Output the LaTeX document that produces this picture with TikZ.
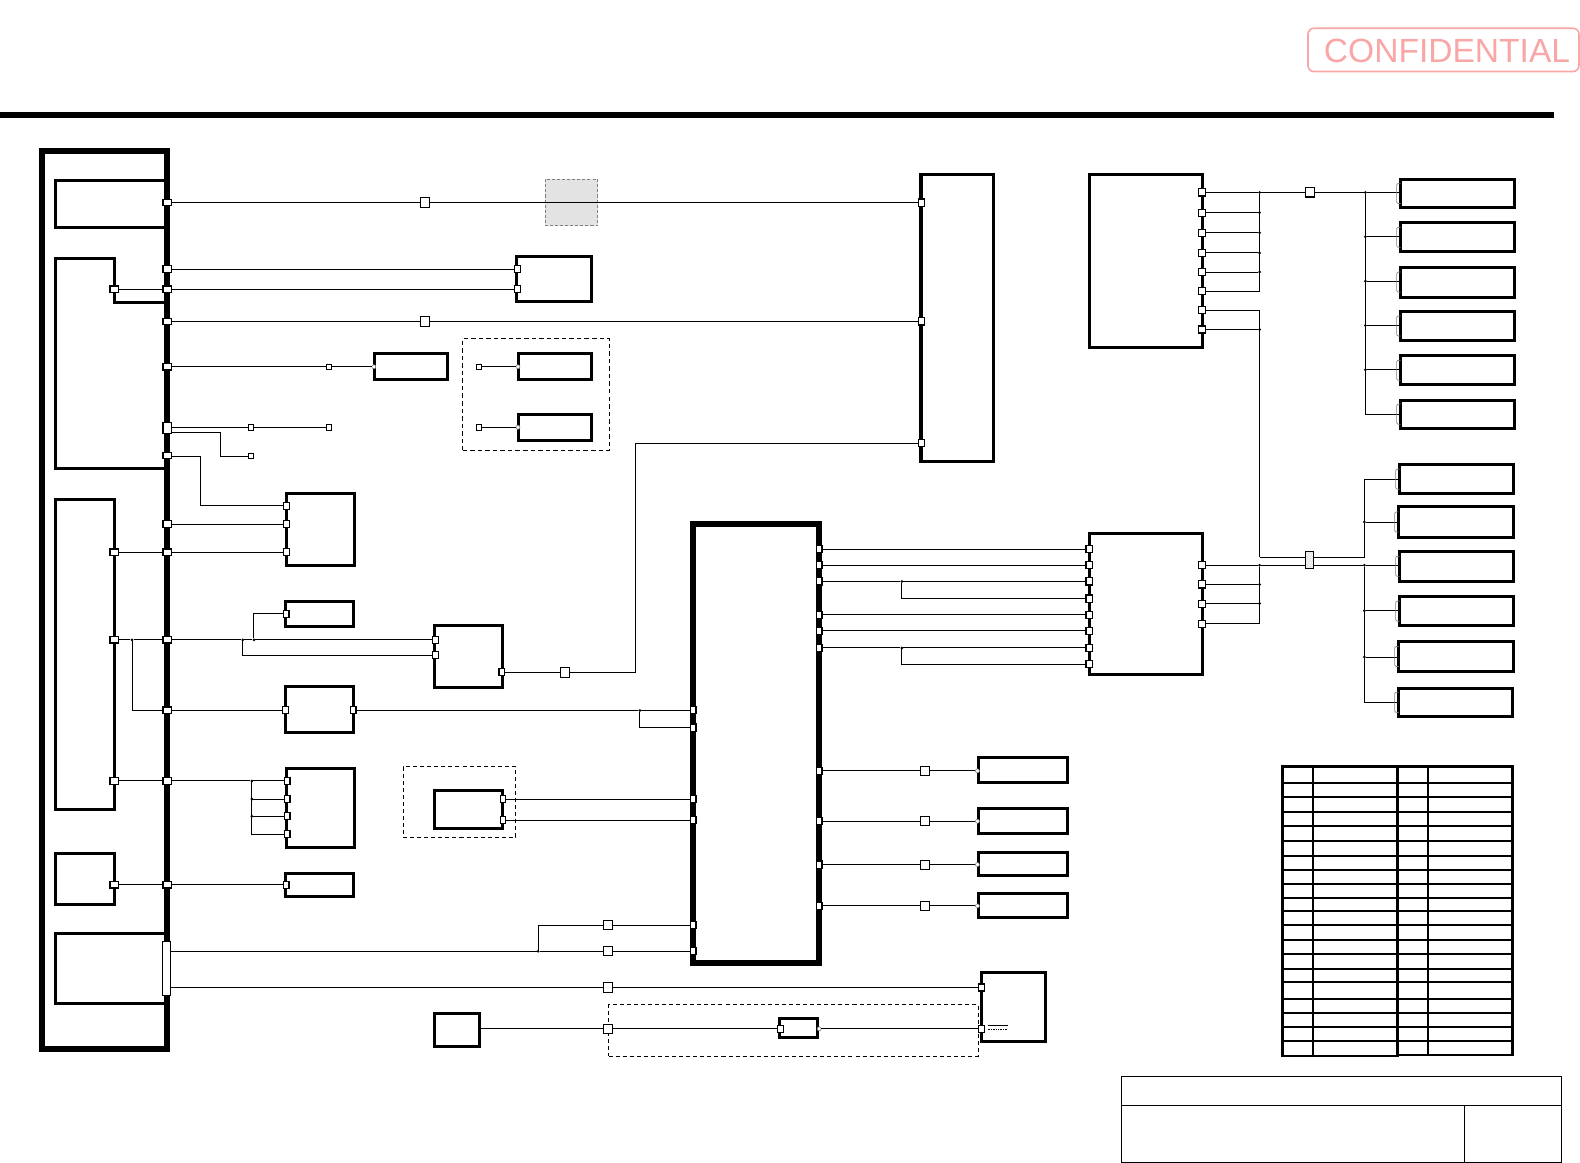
\documentclass[tikz,border=0pt]{standalone}
\usepackage{fontspec}
\setmainfont{Liberation Sans}
\usepackage{tikz}
\definecolor{stamppink}{RGB}{248,166,166}
\tikzset{
  wire/.style={line width=0.9pt},
  blk/.style 2 args={draw, line width=3pt, minimum width=#1pt, minimum height=#2pt, inner sep=0pt, outer sep=0pt},
  heavyblk/.style 2 args={draw, line width=5.8pt, minimum width=#1pt, minimum height=#2pt, inner sep=0pt, outer sep=0pt},
  dashgrp/.style 2 args={draw, dash pattern=on 4pt off 3pt, line width=1pt, minimum width=#1pt, minimum height=#2pt, inner sep=0pt, outer sep=0pt},
  busport/.style={draw, fill=white, line width=1.3pt, minimum width=8.5pt, minimum height=6.5pt, inner sep=0pt, outer sep=0pt},
  edgeport/.style={draw, fill=white, line width=1.1pt, minimum width=5.5pt, minimum height=7pt, inner sep=0pt, outer sep=0pt},
  sqport/.style={draw, fill=white, line width=1pt, minimum width=9pt, minimum height=9pt, inner sep=0pt, outer sep=0pt},
  tinyport/.style={draw, fill=white, line width=0.9pt, minimum width=5pt, minimum height=5.5pt, inner sep=0pt, outer sep=0pt},
  ringpin/.style={circle, draw=gray, fill=white, line width=0.6pt, minimum size=4pt, inner sep=0pt, outer sep=0pt},
  jdot/.style={circle, fill=black, minimum size=3pt, inner sep=0pt, outer sep=0pt},
  tabbrk/.style={draw=gray, line width=0.7pt, rounded corners=2pt},
  rowline/.style={line width=2pt}
}

\begin{document}
\begin{tikzpicture}[x=1pt, y=-1pt]
    \useasboundingbox (0,0) rectangle (1568,1154);

    \node[draw=stamppink, line width=1.6pt, rounded corners=6pt, minimum width=269pt, minimum height=43pt, inner sep=0pt] (stamp) at (1432.5,49.5) {};
    \node[text=stamppink, font=\fontsize{33.3}{36}\selectfont, inner sep=0pt] (stamptxt) at (1436,51) {CONFIDENTIAL};
    \coordinate (barl) at (0,114);
    \coordinate (barr) at (1542,114);
    \draw[line width=6pt] (barl) -- (barr);

    \node[draw=gray, densely dashed, fill=black!11, line width=0.7pt, minimum width=52pt, minimum height=46pt, inner sep=0pt] (greyzone) at (567,201) {};
    \node[dashgrp={146}{111}, line width=1.4pt, dash pattern=on 4.5pt off 3pt] (grp1) at (532,391.5) {};
    \node[dashgrp={112}{70}] (grp2) at (456,796) {};
    \node[dashgrp={367}{51}] (grp3) at (787.5,1022.5) {};

    \node[heavyblk={124}{891}] (frame) at (104,595.5) {};
    \node[blk={111}{47}] (a1) at (110.5,202.5) {};
    \draw[line width=3pt] (166,465) -- (55,465) -- (55,257) -- (114,257) -- (114,300) -- (166,300);
    \node[blk={59}{307}] (a3) at (84.5,649.5) {};
    \node[blk={59}{51}] (a4) at (84.5,872.5) {};
    \node[blk={111}{70}] (a5) at (110.5,961) {};

    \node[blk={72}{285}] (b1) at (950,315.5) {};
    \node[blk={74}{44}] (b2) at (550,277) {};
    \node[blk={72}{26}] (box1) at (408,364) {};
    \node[blk={72}{26}] (box2) at (551,364) {};
    \node[blk={72}{26}] (box3) at (551,424) {};
    \node[blk={68}{71}] (c1) at (318,525.5) {};
    \node[blk={68}{25}] (d1) at (317,609.5) {};
    \node[blk={68}{61}] (e1) at (465,651.5) {};
    \node[blk={68}{46}] (f1) at (317,704) {};
    \node[blk={68}{78}] (h1) at (318,802) {};
    \node[blk={68}{38}] (i1) at (465,803) {};
    \node[blk={68}{23}] (j1) at (317,878.5) {};
    \node[blk={45}{33}] (l1) at (453.5,1022.5) {};
    \node[blk={37}{19}] (m1) at (792.5,1020.5) {};
    \node[blk={64}{69}] (k1) at (1006,999.5) {};
    \node[heavyblk={125}{436}] (g1) at (750.5,738) {};
    \node[blk={112}{140}] (n1) at (1137,599) {};
    \node[blk={112}{172}] (p1) at (1137,259) {};

    \node[blk={88}{25}] (s1) at (1015,764.5) {};
    \node[blk={88}{25}] (s2) at (1015,814.5) {};
    \node[blk={88}{23}] (s3) at (1015,857.5) {};
    \node[blk={88}{24}] (s4) at (1015,899) {};

    \node[blk={113}{28}] (r1) at (1446.5,192) {};
    \node[blk={113}{29}] (r2) at (1446.5,235.5) {};
    \node[blk={113}{30}] (r3) at (1446.5,280) {};
    \node[blk={113}{29}] (r4) at (1446.5,323.5) {};
    \node[blk={113}{29}] (r5) at (1446.5,367.5) {};
    \node[blk={113}{28}] (r6) at (1446.5,411) {};
    \node[blk={113}{29}] (t1) at (1445.5,475.5) {};
    \node[blk={114}{30}] (t2) at (1445,518) {};
    \node[blk={113}{30}] (t3) at (1445.5,562) {};
    \node[blk={113}{29}] (t4) at (1445.5,606.5) {};
    \node[blk={114}{29}] (t5) at (1445,651.5) {};
    \node[blk={113}{28}] (t6) at (1444.5,697) {};

    \foreach \y in {201,267,287,319,364,452,520,548,635,705,775,878}
      \node[busport] (bus\y) at (166,\y) {};
    \node[busport, minimum height=11pt] (bus425) at (166,425) {};
    \node[busport, minimum width=8pt, minimum height=54pt, line width=1pt] (tallp) at (165.5,961) {};
    \node[busport] (a2p) at (113.5,287) {};
    \node[busport] (a3p548) at (113.5,548) {};
    \node[busport] (a3p635) at (113.5,635) {};
    \node[busport] (a3p775) at (113.5,775) {};
    \node[busport] (a4p) at (113.5,878) {};

    \foreach \y in {201,319,440}
      \node[edgeport] (b1\y) at (914.5,\y) {};
    \foreach \y in {267,287}
      \node[edgeport] (b2\y) at (513.5,\y) {};
    \foreach \y in {502,520,548}
      \node[edgeport] (c1\y) at (284.5,\y) {};
    \node[edgeport] (d1p) at (284,609) {};
    \foreach \y in {635,650}
      \node[edgeport] (e1\y) at (432,\y) {};
    \node[edgeport] (e1r) at (498,667) {};
    \node[edgeport] (f1l) at (283.5,705) {};
    \node[edgeport] (f1r) at (350.5,705) {};
    \foreach \y in {775,793,810,828}
      \node[edgeport] (h1\y) at (285,\y) {};
    \foreach \y in {793,814}
      \node[edgeport] (i1\y) at (499,\y) {};
    \node[edgeport] (j1p) at (284,878) {};
    \foreach \y in {705,722,793,814,918,944}
      \node[edgeport] (gl\y) at (688,\y) {};
    \foreach \y in {545,561,577,610,626,643,765,815,858,899}
      \node[edgeport] (gr\y) at (813,\y) {};
    \foreach \y in {545,561,577,594,610,626,643,659}
      \node[edgeport, minimum width=6.5pt] (nl\y) at (1081,\y) {};
    \foreach \y in {561,580,599,619}
      \node[edgeport, minimum width=7pt] (nr\y) at (1193,\y) {};
    \foreach \y in {191,211,231,251,270,289,308,327}
      \node[edgeport, minimum width=7pt] (pr\y) at (1193,\y) {};
    \foreach \y in {980,1021}
      \node[edgeport] (k1\y) at (974,\y) {};
    \node[edgeport] (m1l) at (774.5,1021) {};

    \node[sqport, minimum height=10pt] (q201) at (421.5,201) {};
    \node[sqport, minimum height=10pt] (q319) at (421.5,319) {};
    \node[sqport, minimum height=10pt] (q667) at (561,667) {};
    \foreach \y in {765,815,858,899}
      \node[sqport] (q\y) at (918,\y) {};
    \foreach \y in {918,944,980,1021}
      \node[sqport] (qb\y) at (603.5,\y) {};
    \node[sqport] (q191) at (1300,191) {};
    \node[sqport, minimum width=8pt, minimum height=17pt, fill=black!8, line width=1.2pt] (tp) at (1299.5,556) {};

    \node[tinyport] (u364) at (326,364) {};
    \node[tinyport] (u424a) at (249,424) {};
    \node[tinyport] (u424b) at (326,424) {};
    \node[tinyport] (u452) at (249,452.5) {};
    \node[tinyport] (v364) at (475,364) {};
    \node[tinyport] (v424) at (475,424) {};

    \node[ringpin] (o1) at (371,364) {};
    \node[ringpin] (o2) at (514,364) {};
    \node[ringpin] (o3) at (514,424) {};
    \node[ringpin] (o4) at (813,1021) {};
    \node[ringpin] (o765) at (970,765) {};
    \node[ringpin] (o815) at (970,815) {};
    \node[ringpin] (o858) at (970,858) {};
    \node[ringpin] (o899) at (970,899) {};

    \node[jdot] (j131) at (131,635) {};
    \node[jdot] (j241) at (241,635) {};
    \node[jdot] (j252) at (252,635) {};
    \node[jdot] (j635) at (635,705) {};
    \node[jdot] (j250a) at (250,775) {};
    \node[jdot] (j250b) at (250,793) {};
    \node[jdot] (j250c) at (250,810) {};
    \node[jdot] (j534) at (534,944) {};
    \node[jdot] (j895a) at (895,577) {};
    \node[jdot] (j895b) at (895,643) {};
    \foreach \y in {191,211,231,251,270,327,561,580,599}
      \node[jdot] (w\y) at (1250,\y) {};
    \foreach \y in {191,235,279,323,367}
      \node[jdot] (x\y) at (1355,\y) {};
    \node[jdot] (y518) at (1354,518) {};
    \node[jdot] (y561) at (1354,561) {};
    \node[jdot] (y606) at (1354,606) {};
    \node[jdot] (y652) at (1354,652) {};
    \coordinate (c199) at (199,453);
    \coordinate (c219) at (219,429);
    \coordinate (c425) at (170,429);
    \coordinate (c631) at (631,667);
    \coordinate (c944) at (170,944);
    \coordinate (c980) at (170,980);
    \coordinate (c411) at (1355,411);
    \coordinate (c1250) at (1250,553);
    \coordinate (c476) at (1354,476);
    \coordinate (c697) at (1354,697);

    \draw[wire] (bus201) -- (q201);
    \draw[wire] (q201) -- (b1201);
    \draw[wire] (bus267) -- (b2267);
    \draw[wire] (a2p) -- (bus287);
    \draw[wire] (bus287) -- (b2287);
    \draw[wire] (bus319) -- (q319);
    \draw[wire] (q319) -- (b1319);
    \draw[wire] (bus364) -- (u364);
    \draw[wire] (u364) -- (o1);
    \draw[wire] (v364) -- (o2);
    \draw[wire] (v424) -- (o3);
    \draw[wire] (bus425.east |- u424a) -- (u424a);
    \draw[wire] (u424a) -- (u424b);
    \draw[wire] (c425) -- (c219) |- (u452);
    \draw[wire] (bus452.east |- c199) -- (c199) |- (c1502);
    \draw[wire] (bus520) -- (c1520);
    \draw[wire] (a3p548) -- (bus548);
    \draw[wire] (bus548) -- (c1548);
    \draw[wire] (a3p635) -- (j131);
    \draw[wire] (j131) -- (bus635);
    \draw[wire] (bus635) -- (j241);
    \draw[wire] (j241) -- (j252);
    \draw[wire] (j252) -- (e1635);
    \draw[wire] (j131) |- (bus705);
    \draw[wire] (j241) |- (e1650);
    \draw[wire] (j252) |- (d1p);
    \draw[wire] (e1r) -- (q667);
    \draw[wire] (q667) -- (c631) |- (b1440);
    \draw[wire] (bus705) -- (f1l);
    \draw[wire] (f1r) -- (j635);
    \draw[wire] (j635) -- (gl705);
    \draw[wire] (j635) |- (gl722);
    \draw[wire] (a3p775) -- (bus775);
    \draw[wire] (bus775) -- (j250a);
    \draw[wire] (j250a) -- (h1775);
    \draw[wire] (j250a) |- (h1828);
    \draw[wire] (j250b) -- (h1793);
    \draw[wire] (j250c) -- (h1810);
    \draw[wire] (i1793) -- (gl793);
    \draw[wire] (i1814) -- (gl814);
    \draw[wire] (a4p) -- (bus878);
    \draw[wire] (bus878) -- (j1p);
    \draw[wire] (c944) -- (j534);
    \draw[wire] (j534) -- (qb944);
    \draw[wire] (qb944) -- (gl944);
    \draw[wire] (j534) |- (qb918);
    \draw[wire] (qb918) -- (gl918);
    \draw[wire] (c980) -- (qb980);
    \draw[wire] (qb980) -- (k1980);
    \draw[wire] (l1.east |- qb1021) -- (qb1021);
    \draw[wire] (qb1021) -- (m1l);
    \draw[wire] (o4) -- (k11021);
    \draw[line width=0.7pt] (980,1018) -- (1000,1018);
    \draw[line width=0.7pt, densely dotted] (980,1022) -- (1000,1022);

    \foreach \y in {545,561,610,626}
      \draw[wire] (gr\y) -- (nl\y);
    \draw[wire] (gr577) -- (j895a);
    \draw[wire] (j895a) -- (nl577);
    \draw[wire] (j895a) |- (nl594);
    \draw[wire] (gr643) -- (j895b);
    \draw[wire] (j895b) -- (nl643);
    \draw[wire] (j895b) |- (nl659);
    \foreach \y in {765,815,858,899} {
      \draw[wire] (gr\y) -- (q\y);
      \draw[wire] (q\y) -- (o\y);
    }

    \foreach \y in {191,211,231,251,270,327}
      \draw[wire] (pr\y) -- (w\y);
    \draw[wire] (w191) |- (pr289);
    \draw[wire] (w191) -- (q191);
    \draw[wire] (q191) -- (x191);
    \draw[wire] (pr308) -| (c1250);
    \draw[wire] (c1250) -- (c1250 -| tp.west);
    \draw[wire] (c1250 -| tp.east) -| (c476);
    \draw[wire] (c476) -- (c476 -| t1.west);
    \draw[wire] (y518) -- (y518 -| t2.west);
    \foreach \y in {580,599}
      \draw[wire] (nr\y) -- (w\y);
    \draw[wire] (nr561) -- (w561);
    \draw[wire] (w561) |- (nr619);
    \draw[wire] (w561) -- (w561 -| tp.west);
    \draw[wire] (w561 -| tp.east) -- (y561);
    \draw[wire] (y561) -- (y561 -| t3.west);
    \draw[wire] (y561) -- (c697);
    \draw[wire] (y606) -- (y606 -| t4.west);
    \draw[wire] (y652) -- (y652 -| t5.west);
    \draw[wire] (c697) -- (c697 -| t6.west);
    \draw[wire] (x191) -- (c411);
    \draw[wire] (x191) -- (x191 -| r1.west);
    \draw[wire] (x235) -- (x235 -| r2.west);
    \draw[wire] (x279) -- (x279 -| r3.west);
    \draw[wire] (x323) -- (x323 -| r4.west);
    \draw[wire] (x367) -- (x367 -| r5.west);
    \draw[wire] (c411) -- (c411 -| r6.west);

    \foreach \b in {r1,r2,r3,r4,r5,r6,t1,t2,t3,t4,t5,t6}
      \draw[tabbrk] ([yshift=10pt]\b.west) -- ++(-4pt,0pt) -- ++(0pt,-20pt) -- ++(4pt,0pt);

    \draw[line width=2.8pt] (1273,761) rectangle (1387,1048);
    \draw[line width=2.8pt] (1387,761) rectangle (1501,1047);
    \draw[line width=2pt] (1303,761) -- (1303,1047);
    \draw[line width=2pt] (1417,761) -- (1417,1047);
    \foreach \y in {777,791,806,820,835,849,863,877,891,904,918,933,947,962,975,991,1005,1019,1033}
      \draw[rowline] (1273,\y) -- (1501,\y);

    \node[draw, line width=0.9pt, minimum width=437pt, minimum height=86pt, inner sep=0pt] (titleblk) at (1331.5,1111) {};
    \draw[line width=0.9pt] (1113,1097) -- (1550,1097);
    \draw[line width=0.9pt] (1453,1097) -- (1453,1154);
\end{tikzpicture}
\end{document}
